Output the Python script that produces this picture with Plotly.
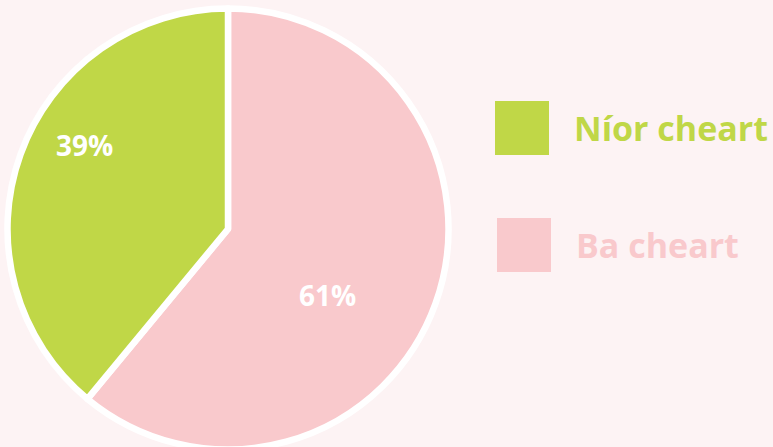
import plotly.graph_objects as go

labels = ["Níor cheart", "Ba cheart"]
values = [39, 61]
colors = ["#c0d747", "#f9c9cc"]
bg = "#fdf3f4"

W, H = 773, 458  # figure slightly taller than the 447 view; bottom of pie is cut off

# plotly puts the first slice to the right of 12 o'clock; feed reversed order
# so the first category sits to the left of 12 o'clock as in the reference
fig = go.Figure(go.Pie(
    labels=labels[::-1], values=values[::-1], sort=False, direction="clockwise", rotation=0,
    marker=dict(colors=colors[::-1], line=dict(color="white", width=6.5)),
    textinfo="none",
    domain=dict(x=[7.5 / W, 448.5 / W], y=[1 - 449.5 / H, 1 - 8.5 / H]),
    showlegend=False, hoverinfo="skip",
))

# percentage labels
total = sum(values)
label_pos = [(84, 145), (327, 295)]
for v, (px, py) in zip(values, label_pos):
    fig.add_annotation(x=px / W, y=1 - py / H, xref="paper", yref="paper",
                       text=f"{round(100 * v / total)}%", showarrow=False,
                       xanchor="center", yanchor="middle",
                       font=dict(family="Open Sans", size=28, color="white", weight="bold"))

# custom legend
legend_y = [128, 245]
legend_x = [495, 497]
sq = 54
for lab, col, ly, lx in zip(labels, colors, legend_y, legend_x):
    fig.add_shape(type="rect", xref="paper", yref="paper",
                  x0=lx / W, x1=(lx + sq) / W,
                  y0=1 - (ly + sq / 2) / H, y1=1 - (ly - sq / 2) / H,
                  fillcolor=col, line=dict(width=0))
    fig.add_annotation(x=(lx + 77) / W, y=1 - ly / H, xref="paper", yref="paper",
                       text=lab, showarrow=False, xanchor="left", yanchor="middle",
                       font=dict(family="Open Sans", size=34, color=col, weight="bold"))

fig.update_layout(width=W, height=H, margin=dict(l=0, r=0, t=0, b=0),
                  paper_bgcolor=bg, plot_bgcolor=bg)
fig.write_html("out.html", config={"displayModeBar": False},
               post_script=("document.body.style.margin='0';"
                            "document.body.style.overflow='hidden';"
                            "document.documentElement.style.overflow='hidden';"
                            "document.body.style.background='%s';" % bg))
